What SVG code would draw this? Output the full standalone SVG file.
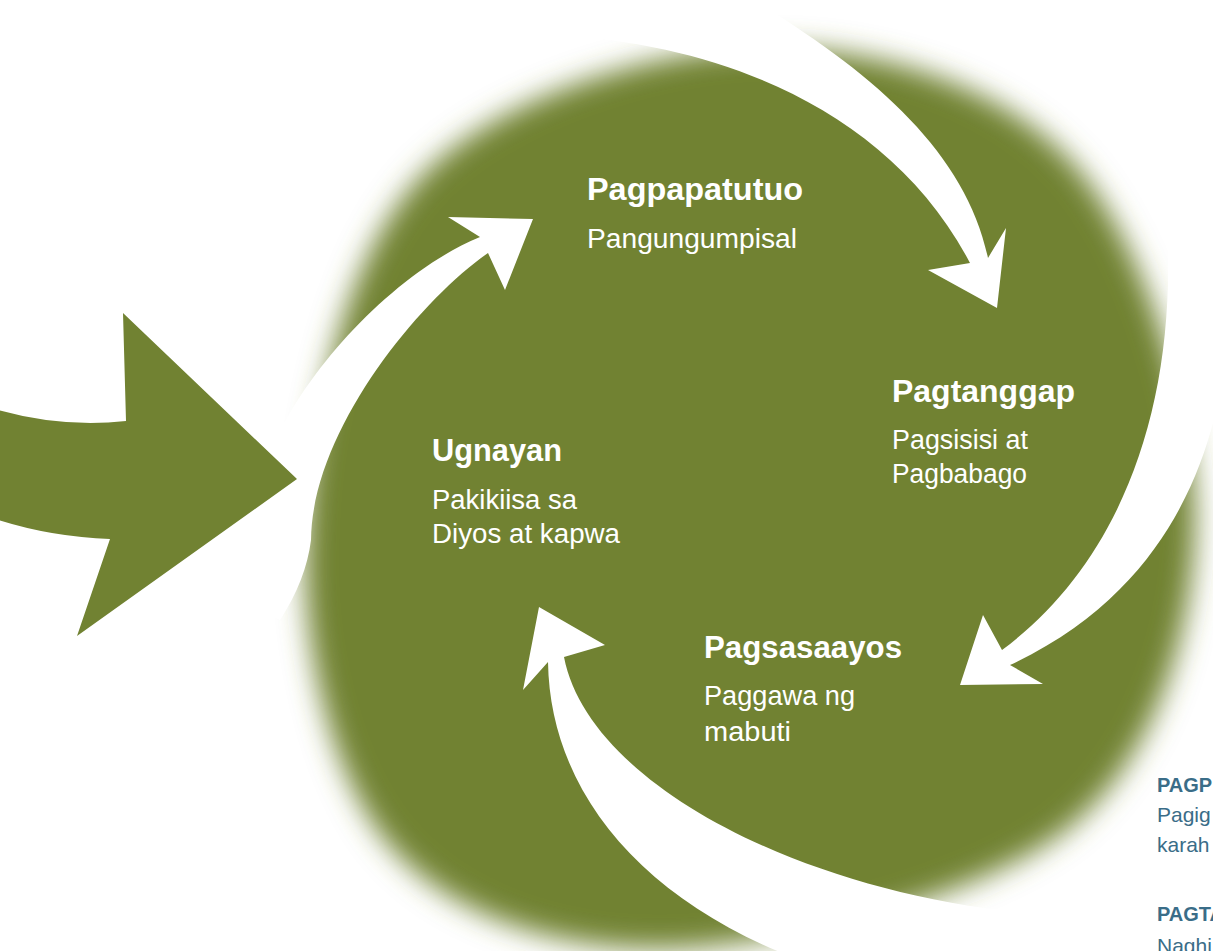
<svg xmlns="http://www.w3.org/2000/svg" width="1213" height="951" viewBox="0 0 1213 951">
<defs>
<filter id="soft" x="-15%" y="-15%" width="130%" height="130%"><feGaussianBlur stdDeviation="14"/></filter>
<style>
.t{font-family:"Liberation Sans",Arial,sans-serif;font-weight:bold;font-size:32px;fill:#fff}
.s{font-family:"Liberation Sans",Arial,sans-serif;font-size:27px;fill:#fff}
.rb{font-family:"Liberation Sans",Arial,sans-serif;font-weight:bold;font-size:20px;fill:#3a6d88}
.rr{font-family:"Liberation Sans",Arial,sans-serif;font-size:21px;fill:#3a6d88}
.w{fill:#fff}
.g{fill:#718232}
</style>
</defs>
<rect width="1213" height="951" fill="#fff"/>
<path id="disc" class="g" filter="url(#soft)" d="M758,48 C866.3,45 997.2,82.2 1070,160 C1142.8,237.8 1194.7,404.2 1195,515 C1195.3,625.8 1158.7,752.8 1072,825 C985.3,897.2 788.3,944.2 675,948 C561.7,951.8 454.2,917.7 392,848 C329.8,778.3 301,641.7 306,540 C310,418.3 344,258.3 420,178 C496,97.7 649.7,51 758,48 Z"/>
<g id="connectors">
<path id="arrow-top" class="w" d="M480,-5 L745,-5 C870,70 965,150 988,258 L1006,228 L997,308 L928,270 L970,263 C890,110 720,45 565,36 L480,30 Z"/>
<path id="arrow-right" class="w" d="M1168,250 L1172,140 L1240,140 L1240,400 L1213,423 C1195,490 1150,600 1010,665 L1043,684 L960,685 L983,615 L1002,650 C1110,570 1172,430 1168,250 Z"/>
<path id="arrow-bottom" class="w" d="M539,607 L605,645 L564,657 C590,790 820,900 1050,915 L1090,916 L1090,960 L800,960 C640,900 550,790 548,662 L523,690 Z"/>
<path id="arrow-left" class="w" d="M533,219 L505,290 L488,253 C420,300 312,430 311,540 Q306,580 280,620 L240,600 L255,480 L273,447 C305,370 395,272 480,237 L448,217 Z"/>
<path id="arrow-entry" class="g" d="M-5,409 Q60,428 126,421 L123,313 L297,479 L77,636 L110,539 Q50,537 -5,519 Z"/>
</g>
<g id="node-pagpapatutuo">
<text class="t" x="587" y="200" textLength="216" lengthAdjust="spacingAndGlyphs">Pagpapatutuo</text>
<text class="s" x="587" y="248" textLength="210" lengthAdjust="spacingAndGlyphs">Pangungumpisal</text>
</g>
<g id="node-pagtanggap">
<text class="t" x="892" y="402" textLength="183" lengthAdjust="spacingAndGlyphs">Pagtanggap</text>
<text class="s" x="892" y="449" textLength="136" lengthAdjust="spacingAndGlyphs">Pagsisisi at</text>
<text class="s" x="892" y="483" textLength="135" lengthAdjust="spacingAndGlyphs">Pagbabago</text>
</g>
<g id="node-ugnayan">
<text class="t" x="432" y="461" textLength="130" lengthAdjust="spacingAndGlyphs">Ugnayan</text>
<text class="s" x="432" y="509" textLength="145" lengthAdjust="spacingAndGlyphs">Pakikiisa sa</text>
<text class="s" x="432" y="543" textLength="188" lengthAdjust="spacingAndGlyphs">Diyos at kapwa</text>
</g>
<g id="node-pagsasaayos">
<text class="t" x="704" y="658" textLength="198" lengthAdjust="spacingAndGlyphs">Pagsasaayos</text>
<text class="s" x="704" y="705" textLength="151" lengthAdjust="spacingAndGlyphs">Paggawa ng</text>
<text class="s" x="704" y="741" textLength="87" lengthAdjust="spacingAndGlyphs">mabuti</text>
</g>
<g id="side-notes">
<text class="rb" x="1157" y="792">PAGP</text>
<text class="rr" x="1157" y="822">Pagig</text>
<text class="rr" x="1157" y="852">karah</text>
<text class="rb" x="1157" y="921">PAGTA</text>
<text class="rr" x="1157" y="953">Naghi</text>
</g>
</svg>
